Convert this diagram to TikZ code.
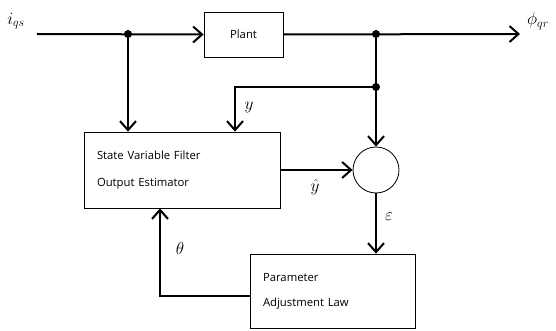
\documentclass[tikz,border=0pt]{standalone}
\usepackage{fontspec}
\setsansfont{Open Sans}
\usepackage{amsmath}
\usetikzlibrary{arrows.meta}

\begin{document}
\begin{tikzpicture}[x=1pt, y=-1pt, >={Straight Barb[length=9pt, width=16pt]},
      font=\sffamily\fontsize{11.3}{27}\selectfont,
      block/.style={draw, line width=0.8pt, inner xsep=13pt, align=left},
      sig/.style={line width=2pt},
      lbl/.style={font=\fontsize{17}{19}\selectfont, inner sep=1pt},
      dot/.style={circle, fill, inner sep=0pt, minimum size=8pt}]
    \useasboundingbox (0,0) rectangle (556,331);
    \node[block, minimum width=79pt, minimum height=45pt, inner xsep=0pt, align=center] (plant) at (243.5,34.5) {Plant};
    \node[block, text width=170pt, minimum height=76pt] (svf) at (182,170) {State Variable Filter\\Output Estimator};
    \node[draw, circle, line width=0.8pt, minimum size=46pt, inner sep=0pt] (sum) at (376,170) {};
    \node[block, text width=139pt, minimum height=74pt, font=\sffamily\fontsize{11.3}{25}\selectfont] (param) at (332.5,291) {Parameter\\Adjustment Law};
    \coordinate (in) at (37,34);
    \coordinate (out) at (520,34);
    \coordinate (j1) at (128,34);
    \coordinate (j2) at (376,34);
    \coordinate (j3) at (376,87);
    \coordinate (ytap) at (235,87);
    \coordinate (thx) at (160,296);
    % signal paths
    \draw[sig, ->] (in) -- (plant.west);
    \draw[sig, ->] (plant.east) -- (out);
    \draw[sig, ->] (j1) -- (j1 |- svf.north);
    \draw[sig, ->] (j2) -- (sum.north);
    \draw[sig, ->] (j3) -- (ytap) -- (ytap |- svf.north);
    \draw[sig, ->] (svf.east |- sum.west) -- (sum.west);
    \draw[sig, ->] (sum.south) -- (sum.south |- param.north);
    \draw[sig, ->] ([yshift=-5pt]param.west) -- (thx) -- (thx |- svf.south);
    \node[dot] at (j1) {};
    \node[dot] at (j2) {};
    \node[dot] at (j3) {};
    % labels
    \node[lbl] (iqs) at (16,21) {$i_{qs}$};
    \node[lbl] (phiqr) at (538,21) {$\phi_{qr}$};
    \node[lbl] (ylab) at (249,107) {$y$};
    \node[lbl] (yhat) at (315,187) {$\hat{y}$};
    \node[lbl] (eps) at (389,217) {$\varepsilon$};
    \node[lbl] (theta) at (180,248) {$\theta$};
\end{tikzpicture}
\end{document}
